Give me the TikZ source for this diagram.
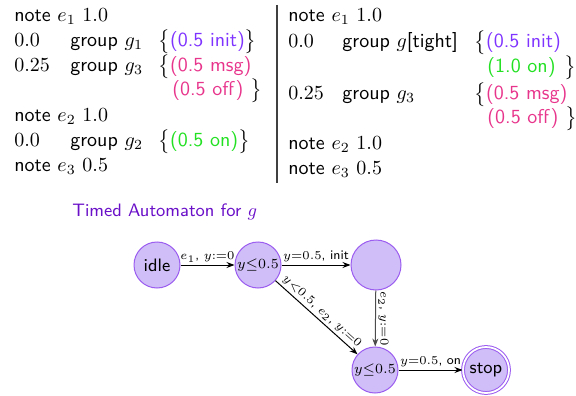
\documentclass[tikz,border=0pt]{standalone}
\usetikzlibrary{arrows.meta}
\definecolor{cinit}{HTML}{7F33FF}
\definecolor{cmsg}{HTML}{E8358C}
\definecolor{con}{HTML}{22E022}
\definecolor{ctitle}{HTML}{6A10C8}
\definecolor{sfill}{HTML}{CFBEF7}
\definecolor{sdraw}{HTML}{9B5CF0}
\begin{document}
\begin{tikzpicture}[x=0.5pt,y=-0.5pt,
  txt/.style={anchor=mid west,inner sep=0pt,font=\sffamily},
  state/.style={circle,draw=sdraw,fill=sfill,minimum size=23pt,inner sep=0pt,line width=0.5pt,font=\sffamily\small},
  mstate/.style={state,font=\fontsize{7.5}{9}\selectfont},
  arr/.style={-{Stealth[length=4pt,width=3pt]},line width=0.5pt},
  lab/.style={font=\sffamily\fontsize{6.5}{7.5}\selectfont,inner sep=1.2pt}]
\useasboundingbox (0,0) rectangle (576,395);
% left column
\node[txt] (l1) at (14,17) {note $e_1$ $1.0$};
\node[txt] (l2a) at (14,42) {$0.0$};
\node[txt] (l2b) at (70,42) {group $g_1$};
\node[txt] (l2c) at (158,42) {$\big\{$\textcolor{cinit}{(0.5 init)}$\big\}$};
\node[txt] (l3a) at (14,67) {$0.25$};
\node[txt] (l3b) at (70,67) {group $g_3$};
\node[txt] (l3c) at (158,67) {$\big\{$\textcolor{cmsg}{(0.5 msg)}};
\node[txt] (l4a) at (172,91) {\textcolor{cmsg}{(0.5 off)}};
\node[txt] (l4b) at (250,91) {$\big\}$};
\node[txt] (l5) at (14,117) {note $e_2$ $1.0$};
\node[txt] (l6a) at (14,142) {$0.0$};
\node[txt] (l6b) at (70,142) {group $g_2$};
\node[txt] (l6c) at (158,142) {$\big\{$\textcolor{con}{(0.5 on)}$\big\}$};
\node[txt] (l7) at (14,167) {note $e_3$ $0.5$};
% divider
\coordinate (d1) at (277,5);
\coordinate (d2) at (277,183);
\draw[line width=0.6pt,black!75] (d1) -- (d2);
% right column
\node[txt] (r1) at (288,17) {note $e_1$ $1.0$};
\node[txt] (r2a) at (288,43) {$0.0$};
\node[txt] (r2b) at (342,43) {group $g$[tight]};
\node[txt] (r2c) at (474,43) {$\big\{$\textcolor{cinit}{(0.5 init)}};
\node[txt] (r3a) at (487,68) {\textcolor{con}{(1.0 on)}};
\node[txt] (r3b) at (564,68) {$\big\}$};
\node[txt] (r4a) at (288,95) {$0.25$};
\node[txt] (r4b) at (342,95) {group $g_3$};
\node[txt] (r4c) at (474,95) {$\big\{$\textcolor{cmsg}{(0.5 msg)}};
\node[txt] (r5a) at (487,119) {\textcolor{cmsg}{(0.5 off)}};
\node[txt] (r5b) at (565,119) {$\big\}$};
\node[txt] (r6) at (288,145) {note $e_2$ $1.0$};
\node[txt] (r7) at (288,170) {note $e_3$ $0.5$};
% automaton
\node[txt,text=ctitle,font=\sffamily\small] (title) at (72,212) {Timed Automaton for $g$};
\node[state] (idle) at (157,265) {idle};
\node[mstate] (s1) at (258,265) {$y{\leq}0.5$};
\node[state,minimum size=25pt] (s2) at (376,265) {};
\node[mstate] (s3) at (375,370) {$y{\leq}0.5$};
\node[state,double=white,double distance=0.9pt] (stop) at (486,370) {stop};
\draw[arr] (idle) -- node[lab,above] {$e_1$, $y{:=}0$} (s1);
\draw[arr] (s1) -- node[lab,above] {$y{=}0.5$, init} (s2);
\draw[arr] (s1) -- node[lab,above,sloped] {$y{<}0.5$, $e_2$, $y{:=}0$} (s3);
\draw[arr,black!70] (s2) -- node[lab,rotate=-90,anchor=south,text=black] {$e_2$, $y{:=}0$} (s3);
\draw[arr] (s3) -- node[lab,above] {$y{=}0.5$, on} (stop);
\end{tikzpicture}
\end{document}
